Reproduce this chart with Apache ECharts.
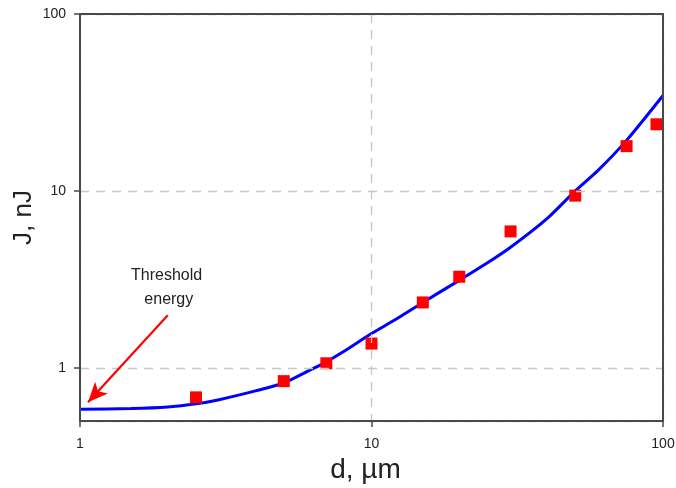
<!DOCTYPE html>
<html>
<head>
<meta charset="utf-8">
<script src="https://cdn.jsdelivr.net/npm/echarts@6/dist/echarts.min.js"></script>
<style>html,body{margin:0;padding:0;background:#fff;}#c{width:676px;height:488px;}</style>
</head>
<body>
<div id="c"></div>
<script>
// Measured points (red squares)
const pointD = [2.5, 5, 7, 10, 15, 20, 30, 50, 75, 95];
const pointJ = [0.68, 0.84, 1.06, 1.37, 2.34, 3.27, 5.9, 9.4, 17.9, 23.8];
// Model curve (blue line)
const curveD = [1, 1.5, 2, 2.5, 3, 4, 5, 6, 7, 8, 10, 12, 15, 20, 25, 30, 40, 50, 60, 75, 100];
const curveJ = [0.583, 0.588, 0.60, 0.625, 0.66, 0.74, 0.82, 0.95, 1.08, 1.23, 1.56, 1.86, 2.34, 3.12, 3.92, 4.8, 6.97, 10.0, 13.1, 19.3, 34.6];
// Axis setup
const xRange = [1, 100];
const yRange = [0.5, 100];
// Annotation arrow (data coordinates)
const arrowFrom = [2.0, 1.98];
const arrowTo = [1.065, 0.638];

const chart = echarts.init(document.getElementById('c'));
const axisColor = '#4a4a4a';
const labelColor = '#222';
const font = 'Liberation Sans, Arial';
const frameAxis = (pos, range) => ({
  type: 'log', logBase: 10, min: range[0], max: range[1], position: pos,
  axisLine: {show: true, lineStyle: {color: axisColor, width: 2}},
  axisTick: {show: false}, axisLabel: {show: false}, splitLine: {show: false}, z: 5
});
chart.setOption({
  animation: false,
  grid: {left: 80, right: 13, top: 14, bottom: 67, outerBoundsMode: 'none', containLabel: false},
  xAxis: [{
    type: 'log', logBase: 10, min: xRange[0], max: xRange[1],
    name: 'd, µm', nameLocation: 'middle', nameGap: 33,
    nameTextStyle: {fontFamily: font, fontSize: 28, color: labelColor, padding: [0, 12, 0, 0]},
    axisLine: {lineStyle: {color: axisColor, width: 2}},
    axisTick: {show: true, inside: false, length: 6, lineStyle: {color: axisColor, width: 1.5}},
    axisLabel: {margin: 16, fontFamily: font, fontSize: 14, color: labelColor},
    splitLine: {show: true, lineStyle: {color: '#c8c8c8', type: [9, 7], width: 1.3}},
    z: 5
  }, frameAxis('top', xRange)],
  yAxis: [{
    type: 'log', logBase: 10, min: yRange[0], max: yRange[1],
    name: 'J, nJ', nameLocation: 'middle', nameGap: 43, nameMoveOverlap: false,
    nameTextStyle: {fontFamily: font, fontSize: 26, color: labelColor},
    axisLine: {lineStyle: {color: axisColor, width: 2}},
    axisTick: {show: true, inside: false, length: 6, lineStyle: {color: axisColor, width: 1.5}},
    axisLabel: {margin: 14, fontFamily: font, fontSize: 14, color: labelColor, showMinLabel: false},
    splitLine: {show: true, lineStyle: {color: '#c8c8c8', type: [9, 7], width: 1.3}},
    z: 5
  }, frameAxis('right', yRange)],
  series: [
    {
      type: 'line', data: curveD.map((d, i) => [d, curveJ[i]]),
      smooth: 0.25, showSymbol: false, symbol: 'none',
      lineStyle: {color: '#0000ff', width: 3},
      z: 2,
      markLine: {
        silent: true, symbol: ['none', 'arrow'], symbolSize: [13, 20],
        lineStyle: {color: '#ff0000', width: 2.2, type: 'solid'},
        label: {show: false},
        data: [[{coord: arrowFrom}, {coord: arrowTo}]]
      }
    },
    {
      type: 'scatter', data: pointD.map((d, i) => [d, pointJ[i]]),
      symbol: 'rect', symbolSize: 12,
      itemStyle: {color: '#ff0000', opacity: 1},
      z: 3
    }
  ],
  graphic: [
    {type: 'text', left: 131, top: 264, style: {text: 'Threshold\n energy', font: '16px "Liberation Sans", Arial', fill: '#222', lineHeight: 24, textAlign: 'center'}}
  ]
});
</script>
</body>
</html>
